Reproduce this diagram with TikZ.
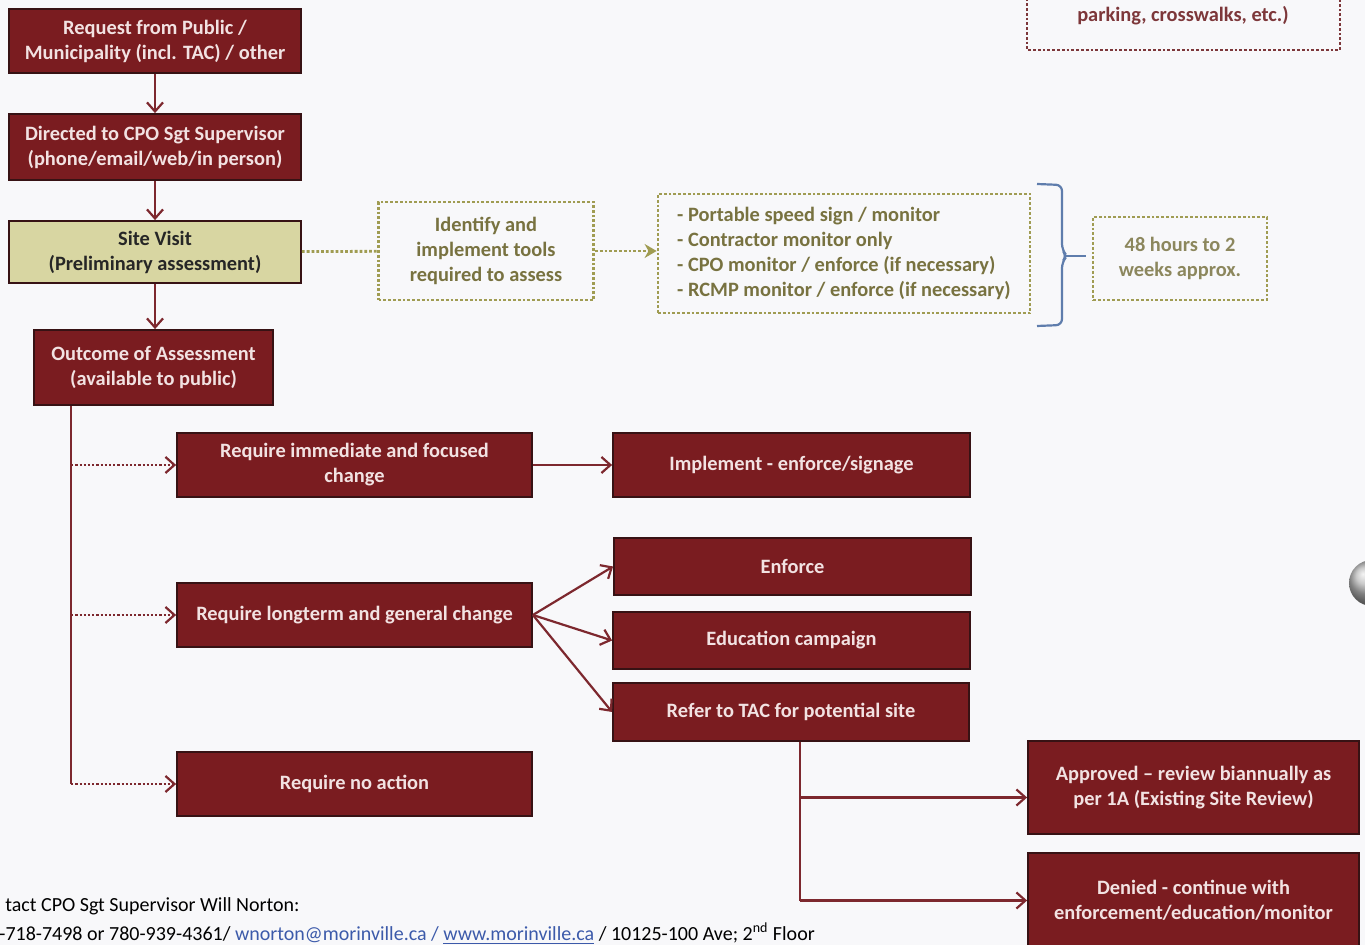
\documentclass[tikz,border=0pt]{standalone}
\usepackage{fontspec}
\setmainfont{Carlito}
\usetikzlibrary{arrows.meta,positioning}

\definecolor{paper}{RGB}{248,248,250}
\definecolor{boxred}{RGB}{122,28,32}
\definecolor{boxedge}{RGB}{55,18,20}
\definecolor{boxtext}{RGB}{242,226,226}
\definecolor{sitefill}{RGB}{216,214,162}
\definecolor{olive}{RGB}{160,156,82}
\definecolor{olivetext}{RGB}{120,114,64}
\definecolor{linkred}{RGB}{125,40,46}
\definecolor{bracecol}{RGB}{95,125,172}
\definecolor{notered}{RGB}{125,55,58}
\definecolor{linkblue}{RGB}{60,90,170}

\begin{document}
\begin{tikzpicture}[x=0.5pt, y=-0.5pt,
    every node/.style={font=\fontsize{10.2}{12.5}\selectfont\bfseries},
    redbox/.style={draw=boxedge, line width=0.9pt, fill=boxred, text=boxtext, align=center, inner sep=0pt},
    dotbox/.style={draw=olive, densely dotted, line width=1.4pt, text=olivetext, align=center, inner sep=0pt},
    flow/.style={draw=linkred, line width=1.1pt, -{Straight Barb[length=4.5pt, width=8pt]}},
    dotflow/.style={flow, densely dotted}]

    % page and margins
    \useasboundingbox (0,0) rectangle (1365,945);
    \clip (0,0) rectangle (1365,945);
    \fill[paper] (0,0) rectangle (1365,945);

    % main column
    \node[redbox, minimum width=146pt, minimum height=32pt] (req) at (155,41) {Request from Public /\\Municipality (incl. TAC) / other};
    \node[redbox, minimum width=146pt, minimum height=33pt] (dir) at (155,147) {Directed to CPO Sgt Supervisor\\(phone/email/web/in person)};
    \node[redbox, fill=sitefill, text=black!85, minimum width=146pt, minimum height=31pt] (site) at (155,252) {Site Visit\\(Preliminary assessment)};
    \node[redbox, minimum width=119.5pt, minimum height=37.5pt] (outc) at (153.5,367.5) {Outcome of Assessment\\(available to public)};

    % assessment tools
    \node[dotbox, minimum width=107.5pt, minimum height=49pt] (ident) at (486,251) {Identify and\\implement tools\\required to assess};
    \node[dotbox, align=left, minimum width=186pt, minimum height=59.5pt] (tools) at (844,253.5) {- Portable speed sign / monitor\\- Contractor monitor only\\- CPO monitor / enforce (if necessary)\\- RCMP monitor / enforce (if necessary)};
    \node[dotbox, text=olivetext!85, minimum width=87pt, minimum height=41.5pt] (hours) at (1180,258.5) {48 hours to 2\\weeks approx.};

    % note at top right (cut off)
    \draw[notered, densely dotted, line width=1.4pt] (1027,-40) rectangle (1340,50);
    \node[text=notered] (note) at (1183,16) {parking, crosswalks, etc.)};

    % outcomes
    \node[redbox, minimum width=177.5pt, minimum height=32pt] (imm) at (354.5,465) {Require immediate and focused\\change};
    \node[redbox, minimum width=177.5pt, minimum height=32pt] (long) at (354.5,615) {Require longterm and general change};
    \node[redbox, minimum width=177.5pt, minimum height=32pt] (noact) at (354.5,784) {Require no action};

    \node[redbox, minimum width=178.5pt, minimum height=32pt] (impl) at (791.5,465) {Implement - enforce/signage};
    \node[redbox, minimum width=178.5pt, minimum height=28.5pt] (enf) at (792.5,566.5) {Enforce};
    \node[redbox, minimum width=178.5pt, minimum height=28.5pt] (edu) at (791.5,640.5) {Education campaign};
    \node[redbox, minimum width=178pt, minimum height=29pt] (refer) at (791,712) {Refer to TAC for potential site};

    \node[redbox, minimum width=165.5pt, minimum height=46.5pt] (appr) at (1193.5,787.5) {Approved -- review biannually as\\per 1A (Existing Site Review)};
    \node[redbox, minimum width=165.5pt, minimum height=47.5pt] (deny) at (1193.5,900.5) {Denied - continue with\\enforcement/education/monitor};

    % main arrows
    \draw[flow] (req) -- (dir);
    \draw[flow] (dir) -- (site);
    \draw[flow] (site.south) -- (site.south |- outc.north);

    \draw[olive, densely dotted, line width=1.4pt] (site) -- (ident);
    \draw[olive, densely dotted, line width=1.4pt, -{Stealth[length=6pt, width=7pt]}] (ident.east) -- (ident.east -| tools.west);

    % brace
    \draw[bracecol, line width=1.1pt, rounded corners=3pt] (1037,184) -- (1062,185) -- (1062,250) -- (1067,256) -- (1062,262) -- (1062,325) -- (1037,326);
    \coordinate (btip) at (1066,256);
    \draw[bracecol, line width=1.1pt] (btip) -- (1086,256);

    % outcome trunk
    \coordinate (trunk) at ([xshift=19pt]outc.south west);
    \draw[linkred, line width=1.1pt] (trunk) -- (trunk |- noact.west);
    \draw[dotflow] (trunk |- imm.west) -- (imm.west);
    \draw[dotflow] (trunk |- long.west) -- (long.west);
    \draw[dotflow] (trunk |- noact.west) -- (noact.west);

    \draw[flow] (imm) -- (impl);
    \draw[flow] (long.east) -- (enf.west);
    \draw[flow] (long.east) -- (edu.west);
    \draw[flow] (long.east) -- (refer.west);

    % TAC decision
    \coordinate (rb) at ([xshift=4.5pt]refer.south);
    \draw[linkred, line width=1.1pt] (rb) -- (rb |- deny.west);
    \draw[flow] ([yshift=-5pt]rb |- appr.west) -- ([yshift=-5pt]appr.west);
    \draw[flow] (rb |- deny.west) -- (deny.west);

    % contact lines (cut off)
    \node[anchor=base west, inner sep=0pt, font=\fontsize{10}{12}\selectfont] (contact) at (5,911) {tact CPO Sgt Supervisor Will Norton:};
    \node[anchor=base west, inner sep=0pt, font=\fontsize{10}{12}\selectfont] (phone) at (-1,940) {-718-7498 or 780-939-4361/ \textcolor{linkblue}{\underline{wnorton@morinville.ca} / \underline{www.morinville.ca}} / 10125-100 Ave; 2\textsuperscript{nd} Floor};

    % page ring
    \shade[ball color=gray!55] (1372,583) circle (11.5pt);
\end{tikzpicture}
\end{document}
